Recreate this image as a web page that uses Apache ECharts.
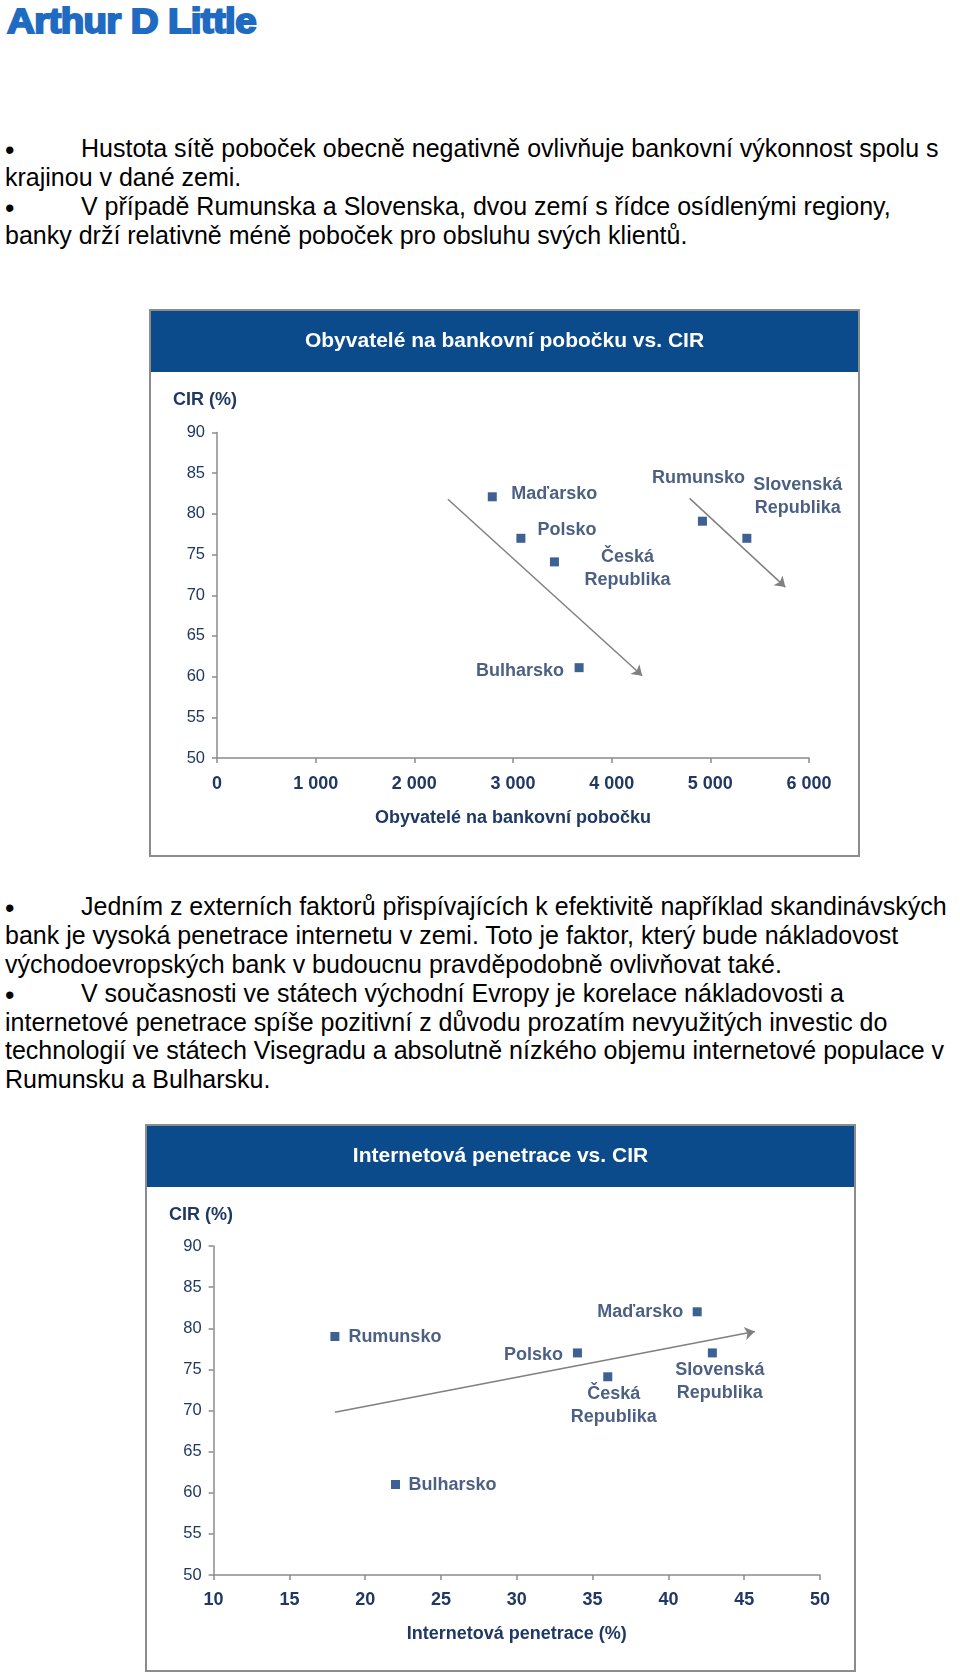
<!DOCTYPE html>
<html><head><meta charset="utf-8">
<script src="https://cdn.jsdelivr.net/npm/echarts@6/dist/echarts.min.js"></script>
<style>
html,body{margin:0;padding:0;background:#fff;}
#page{position:relative;width:960px;height:1675px;overflow:hidden;font-family:"Liberation Sans",Arial,sans-serif;}
.logo{position:absolute;left:7px;top:3px;font-size:35px;line-height:35px;font-weight:bold;color:#1f6bc1;transform-origin:0 0;transform:scaleX(1.1);-webkit-text-stroke:2px #1f6bc1;letter-spacing:-0.6px;white-space:nowrap;}
.ln{position:absolute;font-size:25px;line-height:29px;color:#000;white-space:nowrap;}
.bul{position:absolute;left:5px;font-size:27px;line-height:29px;color:#000;}
.chart{position:absolute;width:711px;height:548px;}
</style></head>
<body><div id="page">
<div class="logo">Arthur D Little</div>

<div class="bul" style="top:136px">•</div>
<div class="ln" style="left:81px;top:134px">Hustota sítě poboček obecně negativně ovlivňuje bankovní výkonnost spolu s</div>
<div class="ln" style="left:5px;top:163px">krajinou v dané zemi.</div>
<div class="bul" style="top:194px">•</div>
<div class="ln" style="left:81px;top:192px">V případě Rumunska a Slovenska, dvou zemí s řídce osídlenými regiony,</div>
<div class="ln" style="left:5px;top:221px">banky drží relativně méně poboček pro obsluhu svých klientů.</div>

<div id="c1" class="chart" style="left:149px;top:309px"></div>

<div class="bul" style="top:894px">•</div>
<div class="ln" style="left:81px;top:892px">Jedním z externích faktorů přispívajících k efektivitě například skandinávských</div>
<div class="ln" style="left:5px;top:921px">bank je vysoká penetrace internetu v zemi. Toto je faktor, který bude nákladovost</div>
<div class="ln" style="left:5px;top:950px">východoevropských bank v budoucnu pravděpodobně ovlivňovat také.</div>
<div class="bul" style="top:981px">•</div>
<div class="ln" style="left:81px;top:979px">V současnosti ve státech východní Evropy je korelace nákladovosti a</div>
<div class="ln" style="left:5px;top:1008px">internetové penetrace spíše pozitivní z důvodu prozatím nevyužitých investic do</div>
<div class="ln" style="left:5px;top:1036px">technologií ve státech Visegradu a absolutně nízkého objemu internetové populace v</div>
<div class="ln" style="left:5px;top:1065px">Rumunsku a Bulharsku.</div>

<div id="c2" class="chart" style="left:145px;top:1124px"></div>
</div>
<script>
// ---- Chart 1 data: inhabitants per bank branch vs CIR ----
const c1Title = 'Obyvatelé na bankovní pobočku vs. CIR';
const c1XName = 'Obyvatelé na bankovní pobočku';
const c1Names = ['Maďarsko', 'Polsko', 'Česká\nRepublika', 'Bulharsko', 'Rumunsko', 'Slovenská\nRepublika'];
const c1Branch = [2790, 3080, 3420, 3670, 4920, 5370];
const c1Cir = [82.1, 77.0, 74.1, 61.1, 79.1, 77.0];
const c1Trends = [[[2340, 81.8], [4310, 60.1]], [[4790, 81.9], [5760, 71.0]]];
const c1XTicks = ['0', '1 000', '2 000', '3 000', '4 000', '5 000', '6 000'];

// ---- Chart 2 data: internet penetration vs CIR ----
const c2Title = 'Internetová penetrace vs. CIR';
const c2XName = 'Internetová penetrace (%)';
const c2Names = ['Rumunsko', 'Bulharsko', 'Polsko', 'Česká\nRepublika', 'Maďarsko', 'Slovenská\nRepublika'];
const c2Internet = [18.0, 22.0, 34.0, 36.0, 41.9, 42.9];
const c2Cir = [79.0, 61.0, 77.0, 74.1, 82.0, 77.0];
const c2Trends = [[[18.0, 69.8], [45.7, 79.6]]];
const c2XTicks = ['10', '15', '20', '25', '30', '35', '40', '45', '50'];

const yTicks = ['50', '55', '60', '65', '70', '75', '80', '85', '90'];

// label placement (style only)
const c1LabelOffsets = [[62, -3], [46, -8.5], [73, 6.5], [-59, 3], [-4, -43], [51, -42]];
const c2LabelOffsets = [[60, 1], [57, 1], [-44, 2], [6, 29], [-57, 0], [7.5, 29]];

const FONT = '"Liberation Sans", Arial, sans-serif';
const NAVY = '#1f3864';
const MARK = '#0c3a78';
const AXIS = '#8c8c8c';

function build(cfg) {
  return {
    animation: false,
    graphic: [
      { type: 'rect', z: 0, shape: { x: 1, y: 1, width: 709, height: 62 }, style: { fill: '#0b4b8c' } },
      { type: 'rect', z: 1, shape: { x: 1, y: 1, width: 709, height: 546 }, style: { fill: 'none', stroke: AXIS, lineWidth: 2 } }
    ],
    title: [
      { text: cfg.title, left: 'center', top: 21.5, padding: 0, z: 10,
        textStyle: { color: '#ffffff', fontSize: 21, fontWeight: 'bold', fontFamily: FONT } },
      { text: 'CIR (%)', left: 24, top: 82, padding: 0, z: 10,
        textStyle: { color: NAVY, fontSize: 18, fontWeight: 'bold', fontFamily: FONT } }
    ],
    grid: cfg.grid,
    xAxis: {
      type: 'value', min: cfg.xMin, max: cfg.xMax, interval: cfg.xInt,
      axisLine: { show: true, lineStyle: { color: AXIS, width: 1.5 } },
      axisTick: { show: true, length: 5, lineStyle: { color: AXIS, width: 1.5 } },
      splitLine: { show: false },
      axisLabel: { color: NAVY, fontSize: 18, fontWeight: 'bold', fontFamily: FONT, margin: cfg.labelMargin,
        formatter: v => cfg.xTicks[Math.round((v - cfg.xMin) / cfg.xInt)] },
      name: cfg.xName, nameLocation: 'middle', nameGap: cfg.nameGap,
      nameTextStyle: { color: NAVY, fontSize: 18, fontWeight: 'bold', fontFamily: FONT }
    },
    yAxis: {
      type: 'value', min: 50, max: 90, interval: 5,
      axisLine: { show: true, lineStyle: { color: AXIS, width: 1.5 } },
      axisTick: { show: true, length: 5, lineStyle: { color: AXIS, width: 1.5 } },
      splitLine: { show: false },
      axisLabel: { color: NAVY, fontSize: 16.5, fontFamily: FONT, margin: 12,
        formatter: v => yTicks[Math.round((v - 50) / 5)] }
    },
    series: [{
      type: 'scatter', symbol: 'rect', symbolSize: 9,
      itemStyle: { color: MARK },
      label: { show: true, position: 'inside', formatter: '{b}', color: NAVY, fontSize: 18,
        fontWeight: 'bold', fontFamily: FONT, lineHeight: 23, align: 'center', verticalAlign: 'middle' },
      data: cfg.names.map((n, i) => ({ name: n, value: [cfg.xs[i], cfg.ys[i]], label: { offset: cfg.offsets[i] } })),
      markLine: {
        silent: true, symbol: ['none', 'arrow'], symbolSize: 10, animation: false,
        lineStyle: { color: '#808080', width: 1.5, type: 'solid' },
        label: { show: false },
        data: cfg.trends.map(t => [{ coord: t[0] }, { coord: t[1] }])
      }
    }]
  };
}

const ch1 = echarts.init(document.getElementById('c1'));
ch1.setOption(build({
  title: c1Title, xName: c1XName, names: c1Names, xs: c1Branch, ys: c1Cir, trends: c1Trends,
  xTicks: c1XTicks, xMin: 0, xMax: 6000, xInt: 1000, offsets: c1LabelOffsets,
  grid: { left: 68, right: 51, top: 123.5, bottom: 99 }, labelMargin: 17, nameGap: 51
}));
const ch2 = echarts.init(document.getElementById('c2'));
ch2.setOption(build({
  title: c2Title, xName: c2XName, names: c2Names, xs: c2Internet, ys: c2Cir, trends: c2Trends,
  xTicks: c2XTicks, xMin: 10, xMax: 50, xInt: 5, offsets: c2LabelOffsets,
  grid: { left: 68.6, right: 36, top: 122, bottom: 97 }, labelMargin: 16, nameGap: 50
}));
</script>
</body></html>
